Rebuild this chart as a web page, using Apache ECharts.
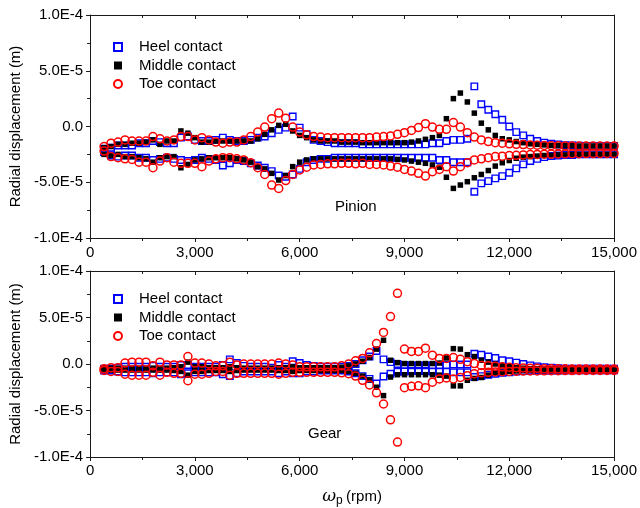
<!DOCTYPE html>
<html>
<head>
<meta charset="utf-8">
<script src="https://cdn.jsdelivr.net/npm/echarts@6/dist/echarts.min.js"></script>
<style>
html, body { margin: 0; padding: 0; background: #fff; }
#chart { width: 640px; height: 508px; }
</style>
</head>
<body>
<div id="chart"></div>
<script>
// rotational speed of the pinion (rpm)
var rpm = [
    400, 600, 800, 1000, 1200, 1400, 1600, 1800, 2000, 2200,
    2400, 2600, 2800, 3000, 3200, 3400, 3600, 3800, 4000, 4200,
    4400, 4600, 4800, 5000, 5200, 5400, 5600, 5800, 6000, 6200,
    6400, 6600, 6800, 7000, 7200, 7400, 7600, 7800, 8000, 8200,
    8400, 8600, 8800, 9000, 9200, 9400, 9600, 9800, 10000, 10200,
    10400, 10600, 10800, 11000, 11200, 11400, 11600, 11800, 12000, 12200,
    12400, 12600, 12800, 13000, 13200, 13400, 13600, 13800, 14000, 14200,
    14400, 14600, 14800, 15000
];
// radial displacement, in units of 1E-5 m (upper / lower envelope)
var UNIT = 1e-5;

// ---- pinion ----
var pinionHeelUp = [
    -2.0, -1.9, -1.7, -1.7, -1.7, -1.5, -1.5, -1.3, -1.4, -1.5,
    -1.5, -1.0, -0.9, -1.2, -1.3, -1.3, -1.2, -1.0, -1.2, -1.3,
    -1.3, -1.2, -1.0, -0.9, -0.6, -0.3, -0.1, 0.9, -0.1, -0.7,
    -1.2, -1.3, -1.4, -1.5, -1.5, -1.5, -1.5, -1.6, -1.6, -1.6,
    -1.6, -1.6, -1.6, -1.6, -1.6, -1.6, -1.6, -1.5, -1.5, -1.3,
    -1.2, -1.2, -1.1, 3.6, 2.0, 1.5, 1.1, 0.6, 0.0, -0.5,
    -0.8, -1.1, -1.3, -1.45, -1.55, -1.62, -1.67, -1.7, -1.72, -1.74,
    -1.75, -1.75, -1.75, -1.75
];
var pinionHeelLow = [
    -2.3, -2.6, -2.7, -2.6, -2.6, -2.8, -2.8, -3.0, -2.9, -2.8,
    -2.9, -3.0, -3.1, -3.0, -2.8, -2.9, -3.0, -3.5, -3.3, -3.0,
    -3.1, -3.3, -3.5, -3.7, -4.0, -4.4, -4.5, -4.3, -3.8, -3.2,
    -3.0, -2.9, -2.9, -2.8, -2.8, -2.8, -2.8, -2.8, -2.8, -2.8,
    -2.8, -2.8, -2.8, -2.8, -2.8, -2.8, -2.8, -2.8, -3.0, -3.0,
    -3.2, -3.2, -3.2, -5.85, -5.1, -4.9, -4.65, -4.45, -4.15, -3.76,
    -3.4, -3.1, -2.9, -2.75, -2.65, -2.6, -2.55, -2.55, -2.5, -2.5,
    -2.5, -2.5, -2.5, -2.5
];
var pinionMidUp = [
    -1.9, -1.8, -1.6, -1.6, -1.5, -1.5, -1.4, -1.2, -1.6, -1.3,
    -1.3, -0.4, -0.6, -1.0, -1.4, -1.4, -1.3, -1.3, -1.3, -1.3,
    -1.3, -1.3, -1.1, -0.7, -0.3, 0.1, 0.2, -0.4, -0.8, -1.0,
    -1.2, -1.3, -1.3, -1.3, -1.4, -1.4, -1.4, -1.45, -1.45, -1.45,
    -1.45, -1.45, -1.45, -1.45, -1.4, -1.3, -1.15, -1.0, -0.8, 0.7,
    2.5, 3.0, 2.2, 1.2, 0.3, -0.3, -0.8, -1.1, -1.2, -1.35,
    -1.45, -1.55, -1.6, -1.65, -1.7, -1.7, -1.72, -1.72, -1.75, -1.75,
    -1.75, -1.75, -1.75, -1.75
];
var pinionMidLow = [
    -2.5, -2.6, -2.5, -2.7, -2.7, -2.8, -2.9, -3.2, -2.8, -2.7,
    -2.7, -3.7, -3.4, -3.0, -2.9, -2.8, -2.8, -2.8, -2.8, -2.9,
    -3.0, -3.2, -3.6, -3.8, -4.2, -4.8, -4.4, -3.6, -3.2, -3.0,
    -2.9, -2.9, -2.9, -2.9, -2.9, -2.9, -2.9, -2.9, -2.9, -2.9,
    -2.9, -2.9, -2.95, -3.0, -3.1, -3.2, -3.3, -3.45, -3.65, -4.55,
    -5.55, -5.25, -4.95, -4.6, -4.3, -3.95, -3.55, -3.25, -3.05, -2.85,
    -2.75, -2.7, -2.65, -2.6, -2.6, -2.55, -2.55, -2.5, -2.5, -2.5,
    -2.5, -2.5, -2.5, -2.5
];
var pinionToeUp = [
    -1.8, -1.5, -1.4, -1.2, -1.3, -1.3, -1.3, -0.9, -1.1, -1.3,
    -1.2, -0.9, -0.9, -1.2, -1.0, -1.2, -1.4, -1.5, -1.4, -1.4,
    -1.2, -0.9, -0.5, -0.05, 0.7, 1.2, 0.75, -0.05, -0.5, -0.75,
    -0.9, -0.95, -1.0, -1.0, -1.0, -1.0, -1.0, -1.0, -1.0, -0.95,
    -0.9, -0.85, -0.7, -0.55, -0.35, -0.1, 0.25, -0.05, -0.25, -0.25,
    0.35, -0.05, -0.55, -0.95, -1.2, -1.35, -1.45, -1.5, -1.55, -1.6,
    -1.62, -1.65, -1.68, -1.7, -1.72, -1.72, -1.74, -1.74, -1.75, -1.75,
    -1.76, -1.76, -1.76, -1.76
];
var pinionToeLow = [
    -2.2, -2.7, -2.8, -2.9, -2.95, -3.2, -3.2, -3.7, -3.1, -2.8,
    -3.2, -3.3, -3.3, -3.3, -3.6, -3.1, -2.9, -2.8, -2.8, -2.9,
    -3.0, -3.25, -3.7, -4.3, -5.25, -5.55, -4.85, -4.3, -3.9, -3.65,
    -3.45, -3.4, -3.35, -3.35, -3.3, -3.3, -3.35, -3.3, -3.4, -3.4,
    -3.45, -3.55, -3.65, -3.85, -4.0, -4.2, -4.45, -4.05, -3.85, -3.6,
    -4.0, -3.6, -3.25, -3.0, -2.9, -2.8, -2.7, -2.66, -2.6, -2.58,
    -2.55, -2.52, -2.5, -2.48, -2.47, -2.46, -2.45, -2.44, -2.44, -2.43,
    -2.43, -2.42, -2.42, -2.42
];

// ---- gear ----
var gearHeelUp = [
    -0.5, -0.5, -0.4, -0.3, -0.3, -0.3, -0.3, -0.2, -0.3, -0.3,
    -0.3, -0.1, -0.1, -0.3, -0.3, -0.3, -0.3, -0.1, 0.5, 0.1,
    -0.2, -0.3, -0.3, -0.3, -0.4, -0.1, -0.3, 0.3, 0.1, -0.1,
    -0.2, -0.3, -0.3, -0.3, -0.3, -0.2, 0.0, 0.4, 0.8, 1.4,
    0.5, 0.2, 0.0, -0.1, -0.15, -0.15, -0.15, -0.15, -0.1, -0.1,
    -0.05, -0.05, -0.05, 1.1, 1.0, 0.8, 0.65, 0.4, 0.3, 0.15,
    0.0, -0.15, -0.25, -0.35, -0.4, -0.45, -0.5, -0.5, -0.5, -0.5,
    -0.5, -0.5, -0.5, -0.5
];
var gearHeelLow = [
    -0.7, -0.7, -0.8, -0.9, -0.9, -0.9, -0.9, -1.0, -0.9, -0.9,
    -0.9, -1.1, -1.0, -0.9, -0.9, -0.9, -0.9, -1.1, -1.3, -1.0,
    -0.8, -0.8, -0.8, -0.8, -0.8, -1.0, -0.8, -1.0, -1.0, -0.8,
    -0.8, -0.7, -0.7, -0.7, -0.7, -0.8, -1.0, -1.3, -1.6, -2.1,
    -1.35, -1.05, -0.85, -0.8, -0.75, -0.75, -0.75, -0.8, -0.85, -0.85,
    -0.9, -0.9, -0.9, -1.4, -1.3, -1.15, -1.05, -0.95, -0.9, -0.8,
    -0.75, -0.72, -0.7, -0.7, -0.7, -0.7, -0.68, -0.68, -0.68, -0.68,
    -0.68, -0.68, -0.68, -0.68
];
var gearMidUp = [
    -0.45, -0.45, -0.45, -0.45, -0.45, -0.45, -0.45, -0.45, -0.45, -0.45,
    -0.4, -0.3, 0.2, -0.3, -0.3, -0.4, -0.4, -0.4, -0.3, -0.4,
    -0.45, -0.45, -0.45, -0.45, -0.45, -0.4, -0.4, -0.3, -0.4, -0.4,
    -0.4, -0.4, -0.4, -0.4, -0.35, -0.2, 0.0, 0.3, 0.7, 1.6,
    2.55, 0.4, 0.15, 0.05, 0.05, 0.05, 0.05, 0.05, 0.1, 0.65,
    1.65, 1.6, 1.0, 0.8, 0.4, 0.2, 0.0, -0.2, -0.3, -0.4,
    -0.45, -0.5, -0.5, -0.5, -0.5, -0.5, -0.5, -0.5, -0.5, -0.5,
    -0.5, -0.5, -0.5, -0.5
];
var gearMidLow = [
    -0.65, -0.65, -0.65, -0.65, -0.65, -0.65, -0.65, -0.65, -0.65, -0.65,
    -0.7, -0.8, -1.2, -0.8, -0.8, -0.7, -0.7, -0.7, -0.8, -0.7,
    -0.65, -0.65, -0.65, -0.65, -0.65, -0.7, -0.7, -0.8, -0.7, -0.7,
    -0.7, -0.7, -0.7, -0.7, -0.7, -0.8, -1.0, -1.3, -1.7, -2.5,
    -3.4, -1.4, -1.15, -1.15, -1.15, -1.15, -1.15, -1.15, -1.2, -1.3,
    -2.35, -2.35, -1.75, -1.55, -1.45, -1.2, -1.0, -0.9, -0.8, -0.75,
    -0.7, -0.7, -0.7, -0.7, -0.7, -0.7, -0.7, -0.7, -0.7, -0.7,
    -0.7, -0.7, -0.7, -0.7
];
var gearToeUp = [
    -0.5, -0.4, -0.4, 0.1, 0.2, 0.2, 0.2, -0.2, 0.2, -0.1,
    -0.1, -0.1, 0.8, 0.1, 0.1, 0.0, -0.2, -0.2, 0.2, -0.1,
    0.0, 0.0, 0.0, 0.0, 0.0, 0.1, 0.0, -0.1, -0.3, -0.3,
    -0.3, -0.3, -0.3, -0.3, -0.2, 0.0, 0.35, 0.6, 1.2, 2.2,
    3.4, 5.1, 7.6, 1.6, 1.35, 1.35, 1.7, 0.95, 0.6, 0.6,
    0.7, 0.5, 0.25, 0.05, -0.15, -0.2, -0.25, -0.3, -0.35, -0.4,
    -0.42, -0.45, -0.47, -0.5, -0.5, -0.52, -0.52, -0.54, -0.54, -0.55,
    -0.55, -0.55, -0.55, -0.55
];
var gearToeLow = [
    -0.7, -0.8, -0.8, -1.1, -1.2, -1.2, -1.2, -0.9, -1.2, -0.9,
    -1.0, -1.0, -1.8, -1.1, -1.1, -1.0, -0.8, -0.8, -1.2, -1.0,
    -1.0, -1.0, -1.0, -1.0, -1.0, -1.1, -1.0, -0.9, -0.9, -0.9,
    -0.9, -0.9, -0.9, -0.9, -0.95, -1.05, -1.3, -1.75, -2.25, -3.1,
    -4.3, -6.0, -8.4, -2.55, -2.4, -2.35, -2.55, -1.95, -1.6, -1.5,
    -1.6, -1.45, -1.25, -1.05, -0.95, -0.9, -0.85, -0.82, -0.8, -0.78,
    -0.76, -0.75, -0.74, -0.73, -0.72, -0.72, -0.71, -0.71, -0.7, -0.7,
    -0.7, -0.7, -0.7, -0.7
];

var seriesNames = ['Heel contact', 'Middle contact', 'Toe contact'];
var xTicks = ['0', '3,000', '6,000', '9,000', '12,000', '15,000'];

var FONT = 'Arial, "Liberation Sans", sans-serif';

function toPoints(up, low) {
    var pts = [];
    up.forEach(function (v, i) { pts.push([rpm[i], v * UNIT]); });
    low.forEach(function (v, i) { pts.push([rpm[i], v * UNIT]); });
    return pts;
}

function yLabel(v) {
    if (Math.abs(v) < 1e-12) return '0.0';
    return v.toExponential(1).replace('e', 'E').replace('+', '');
}

var styles = [
    {symbol: 'rect', symbolSize: 6.5, itemStyle: {color: 'rgba(0,0,0,0)', borderColor: '#0000ff', borderWidth: 1.4, opacity: 1}},
    {symbol: 'rect', symbolSize: 5.5, itemStyle: {color: '#000', borderWidth: 0, opacity: 1}},
    {symbol: 'circle', symbolSize: 8, itemStyle: {color: 'rgba(0,0,0,0)', borderColor: '#ff0000', borderWidth: 1.5, opacity: 1}}
];

var panels = [
    [pinionHeelUp, pinionHeelLow, pinionMidUp, pinionMidLow, pinionToeUp, pinionToeLow],
    [gearHeelUp, gearHeelLow, gearMidUp, gearMidLow, gearToeUp, gearToeLow]
];

var axisColor = '#1a1a1a';

function bottomX(gi, labelMargin, withName) {
    var ax = {
        type: 'value', gridIndex: gi, position: 'bottom',
        min: 0, max: 15000, interval: 3000,
        axisLine: {onZero: false, lineStyle: {color: axisColor, width: 1}},
        axisTick: {length: 4, lineStyle: {color: axisColor}},
        minorTick: {show: true, splitNumber: 2, length: 3, lineStyle: {color: axisColor}},
        splitLine: {show: false},
        axisLabel: {
            color: '#000', fontSize: 15, fontFamily: FONT, margin: labelMargin,
            formatter: function (v) { return xTicks[Math.round(v / 3000)]; }
        }
    };
    if (withName) {
        ax.name = '{w|ω}{s|p} {t|(rpm)}';
        ax.nameLocation = 'middle';
        ax.nameGap = 30;
        ax.nameTextStyle = {
            rich: {
                w: {fontFamily: '"DejaVu Serif", serif', fontStyle: 'italic', fontSize: 17, color: '#000'},
                s: {fontFamily: FONT, fontSize: 12, color: '#000', padding: [8, 0, 0, 0]},
                t: {fontFamily: FONT, fontSize: 15, color: '#000'}
            }
        };
    }
    return ax;
}

function topX(gi) {
    return {
        type: 'value', gridIndex: gi, position: 'top',
        min: 0, max: 15000, interval: 3000,
        axisLine: {onZero: false, lineStyle: {color: axisColor, width: 1}},
        axisTick: {inside: true, length: 4, lineStyle: {color: axisColor}},
        minorTick: {show: true, splitNumber: 2, length: 3, lineStyle: {color: axisColor}},
        splitLine: {show: false},
        axisLabel: {show: false}
    };
}

function leftY(gi) {
    return {
        type: 'value', gridIndex: gi, position: 'left',
        min: -1e-4, max: 1e-4, interval: 5e-5,
        name: 'Radial displacement (m)', nameLocation: 'middle', nameGap: 66,
        nameTextStyle: {color: '#000', fontSize: 15, fontFamily: FONT},
        axisLine: {onZero: false, lineStyle: {color: axisColor, width: 1}},
        axisTick: {length: 4, lineStyle: {color: axisColor}},
        minorTick: {show: true, splitNumber: 2, length: 3, lineStyle: {color: axisColor}},
        splitLine: {show: false},
        axisLabel: {color: '#000', fontSize: 15, fontFamily: FONT, margin: 7, formatter: yLabel}
    };
}

function rightY(gi) {
    return {
        type: 'value', gridIndex: gi, position: 'right',
        min: -1e-4, max: 1e-4, interval: 5e-5,
        axisLine: {onZero: false, lineStyle: {color: axisColor, width: 1}},
        axisTick: {show: false},
        splitLine: {show: false},
        axisLabel: {show: false}
    };
}

var series = [];
panels.forEach(function (arrs, p) {
    seriesNames.forEach(function (name, k) {
        series.push({
            name: name,
            type: 'scatter',
            xAxisIndex: p * 2,
            yAxisIndex: p * 2,
            symbol: styles[k].symbol,
            symbolSize: styles[k].symbolSize,
            itemStyle: styles[k].itemStyle,
            emphasis: {disabled: true},
            data: toPoints(arrs[k * 2], arrs[k * 2 + 1])
        });
    });
});

function legendAt(top) {
    return {
        orient: 'vertical', left: 113, top: top, padding: 0,
        itemGap: 3.5, itemWidth: 8, itemHeight: 8,
        selectedMode: false,
        textStyle: {color: '#000', fontSize: 15, fontFamily: FONT, padding: [0, 0, 0, 12]},
        data: seriesNames
    };
}

var chart = echarts.init(document.getElementById('chart'));
chart.setOption({
    animation: false,
    backgroundColor: '#fff',
    grid: [
        {left: 89, right: 22, top: 15, height: 223},
        {left: 87, right: 23, top: 271, height: 195}
    ],
    xAxis: [bottomX(0, 7, false), topX(0), bottomX(1, 6, true), topX(1)],
    yAxis: [leftY(0), rightY(0), leftY(1), rightY(1)],
    legend: [legendAt(39.5), legendAt(291.5)],
    graphic: [
        {type: 'text', left: 335, top: 199, style: {text: 'Pinion', fontSize: 15, fontFamily: FONT, fill: '#000'}},
        {type: 'text', left: 308, top: 426, style: {text: 'Gear', fontSize: 15, fontFamily: FONT, fill: '#000'}}
    ],
    series: series
});
</script>
</body>
</html>
